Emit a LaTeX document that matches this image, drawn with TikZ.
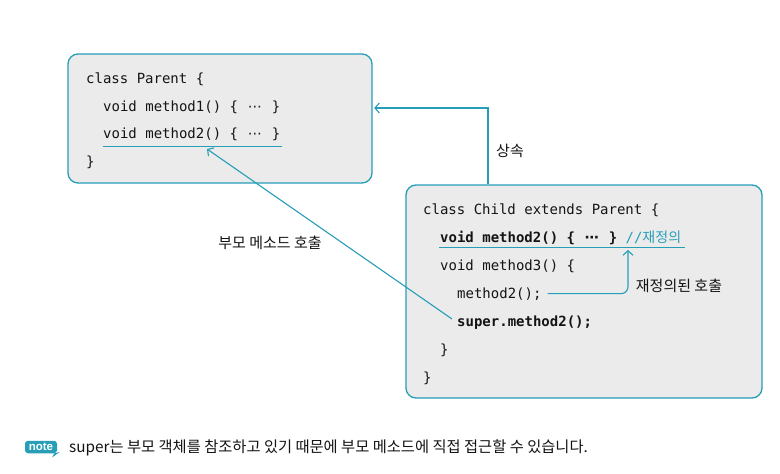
\documentclass[tikz,border=0pt]{standalone}
\usepackage{fontspec}
\setmainfont{Noto Sans CJK KR}
\newfontfamily\codefont{DejaVu Sans Mono}
\newfontfamily\dvs{DejaVu Sans}
\newfontfamily\kr{Noto Sans CJK KR}
\newfontfamily\badgefont{Liberation Sans}
\usetikzlibrary{arrows.meta}
\definecolor{tealc}{RGB}{38,158,184}
\definecolor{boxfill}{RGB}{235,235,235}
\definecolor{ink}{RGB}{20,20,20}
\newcommand{\mydots}{\makebox[16.86pt][c]{\dvs ⋯}}
\begin{document}
\begin{tikzpicture}[x=1pt,y=-1pt,
  box/.style={draw=tealc,line width=1.3pt,fill=boxfill,rounded corners=10pt,inner sep=0pt},
  code/.style={anchor=base west,inner sep=0pt,text=ink,font=\codefont\fontsize{14}{16}\selectfont},
  lbl/.style={inner sep=0pt,text=ink,font=\kr\fontsize{15}{17}\selectfont},
  conn/.style={draw=tealc,line width=1.1pt},
  tip/.style={-{Straight Barb[length=4.5pt,width=10pt,line width=1.1pt]}}
]
\useasboundingbox (0,0) rectangle (780,474);
\fill[white] (0,0) rectangle (780,474);

% boxes
\node[box,minimum width=304pt,minimum height=129pt] (parent) at (220,118.5) {};
\node[box,minimum width=356pt,minimum height=213pt] (child) at (584,291.5) {};

% parent code
\node[code] (p1) at (86,83) {class Parent \{};
\node[code] (p2) at (103,111) {void method1() \{ \mydots\ \}};
\node[code] (p3) at (103,138.5) {void method2() \{ \mydots\ \}};
\node[code] (p4) at (86,166) {\}};
\draw[conn] (102.5,146.5) coordinate (pu1) -- (282,146.5) coordinate (pu2);

% child code
\node[code] (c1) at (423,214) {class Child extends Parent \{};
\node[code] (c2) at (440,242) {{\bfseries void method2() \{ {\dvs\bfseries\makebox[16.86pt][c]{⋯}}\ \}} \textcolor{tealc}{//{\kr 재정의}}};
\draw[conn] (439,247.5) coordinate (cu1) -- (685,247.5) coordinate (cu2);
\node[code] (c3) at (440,270) {void method3() \{};
\node[code] (c4) at (457,298) {method2();};
\node[code] (c5) at (457,326) {\bfseries super.method2();};
\node[code] (c6) at (440,354) {\}};
\node[code] (c7) at (423,382) {\}};

% inheritance
\coordinate (inh) at (488,108);
\draw[conn,tip] (inh |- child.north) -- (inh) -- ([xshift=1.5pt]inh -| parent.east);
\node[lbl] (l1) at (510,151) {상속};

% parent method call
\coordinate (supstart) at (452,319);
\coordinate (ptip) at (207,149);
\draw[conn,tip] (supstart) -- (ptip);
\node[lbl] (l2) at (270,243) {부모 메소드 호출};

% overriding call
\coordinate (ovtip) at (628,250);
\draw[conn,tip,rounded corners=7pt] ([xshift=6pt]c4.east) -| (ovtip);
\node[lbl] (l3) at (679,286) {재정의된 호출};

% note
\node[fill=tealc,rounded corners=3pt,minimum width=32pt,minimum height=12.5pt,inner sep=0pt,text=white,font=\badgefont\bfseries\fontsize{11.5}{12}\selectfont] (badge) at (41,447) {note};
\fill[tealc] ([xshift=-5pt,yshift=-4pt]badge.south east) -- ([xshift=2.5pt,yshift=1.5pt]badge.south east) -- ([xshift=-3pt]badge.south east) -- cycle;
\node[anchor=base west,inner sep=0pt,text=ink,font=\kr\fontsize{15.3}{17}\selectfont] (notetext) at (69,452) {super는 부모 객체를 참조하고 있기 때문에 부모 메소드에 직접 접근할 수 있습니다.};
\end{tikzpicture}
\end{document}
